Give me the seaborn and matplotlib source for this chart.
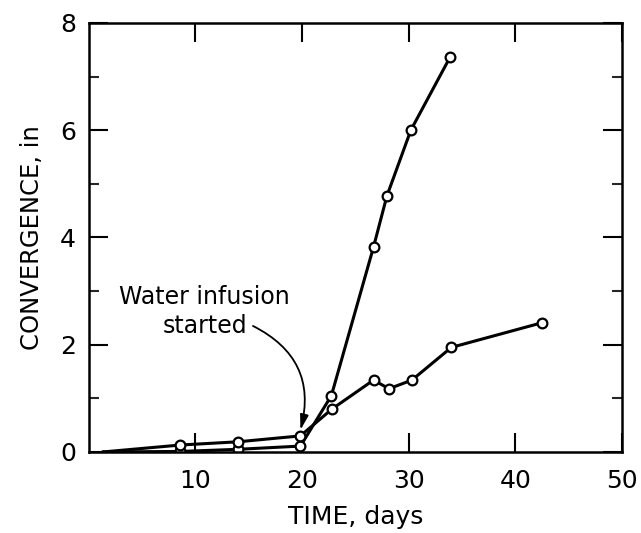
import matplotlib
matplotlib.use("Agg")
import matplotlib.pyplot as plt
import seaborn as sns
import pandas as pd

# Data
steep_time = [1.3, 8.6, 14.0, 19.85, 22.75, 26.7, 27.95, 30.2, 33.9]
steep_conv = [0.0, 0.01, 0.05, 0.11, 1.05, 3.82, 4.77, 6.0, 7.37]
slow_time = [1.3, 8.6, 14.0, 19.85, 22.8, 26.7, 28.15, 30.3, 34.0, 42.5]
slow_conv = [0.0, 0.13, 0.19, 0.30, 0.80, 1.34, 1.18, 1.34, 1.95, 2.41]

x_ticks = [10, 20, 30, 40, 50]
x_tick_labels = ["10", "20", "30", "40", "50"]
y_ticks = [0, 2, 4, 6, 8]
y_minor = [1, 3, 5, 7]

annot_text = "Water infusion\nstarted"
annot_tip = (19.85, 0.41)
annot_from = (15.4, 2.35)
annot_text_pos = (10.86, 2.62)

sns.set_style("ticks")
plt.rcParams["font.family"] = ["DejaVu Sans"]
plt.rcParams["text.color"] = "black"
plt.rcParams["axes.labelcolor"] = "black"

fig = plt.figure(figsize=(6.41, 5.33), dpi=100)
ax = fig.add_axes([0.1384, 0.152, 0.8320, 0.805])

for t, c in [(steep_time, steep_conv), (slow_time, slow_conv)]:
    df = pd.DataFrame({"t": t, "c": c})
    sns.lineplot(data=df, x="t", y="c", ax=ax, color="black", linewidth=2.2,
                 marker="o", markersize=7, markerfacecolor="white",
                 markeredgecolor="black", markeredgewidth=1.6,
                 markevery=list(range(1, len(t))), sort=False, estimator=None)

ax.set_xlim(0, 50)
ax.set_ylim(0, 8)
ax.set_xticks(x_ticks)
ax.set_xticklabels(x_tick_labels)
ax.set_yticks(y_ticks)
ax.set_yticks(y_minor, minor=True)

for side in ["top", "right", "left", "bottom"]:
    ax.spines[side].set_visible(True)
    ax.spines[side].set_linewidth(1.8)
    ax.spines[side].set_color("black")

ax.tick_params(axis="both", which="major", direction="in", length=14,
               width=1.5, labelsize=18, top=True, right=True,
               colors="black", labelcolor="black")
ax.tick_params(axis="y", which="minor", direction="in", length=7,
               width=1.5, left=True, right=True)
ax.tick_params(axis="x", which="minor", bottom=False, top=False)
ax.tick_params(axis="x", which="major", pad=12)
ax.tick_params(axis="y", which="major", pad=9)

ax.set_xlabel("TIME, days", fontsize=18, labelpad=9, color="black")
ax.set_ylabel("CONVERGENCE, in", fontsize=17.5, labelpad=12, color="black")

ax.text(annot_text_pos[0], annot_text_pos[1], annot_text, ha="center",
        va="center", fontsize=17, linespacing=1.25, multialignment="center",
        color="black")
ax.annotate("", xy=annot_tip, xytext=annot_from,
            arrowprops=dict(arrowstyle="-|>,head_length=0.9,head_width=0.25",
                            color="black", lw=1.3,
                            connectionstyle="arc3,rad=-0.4",
                            shrinkA=0, shrinkB=0))

fig.savefig("out.png", dpi=100, facecolor="white")
